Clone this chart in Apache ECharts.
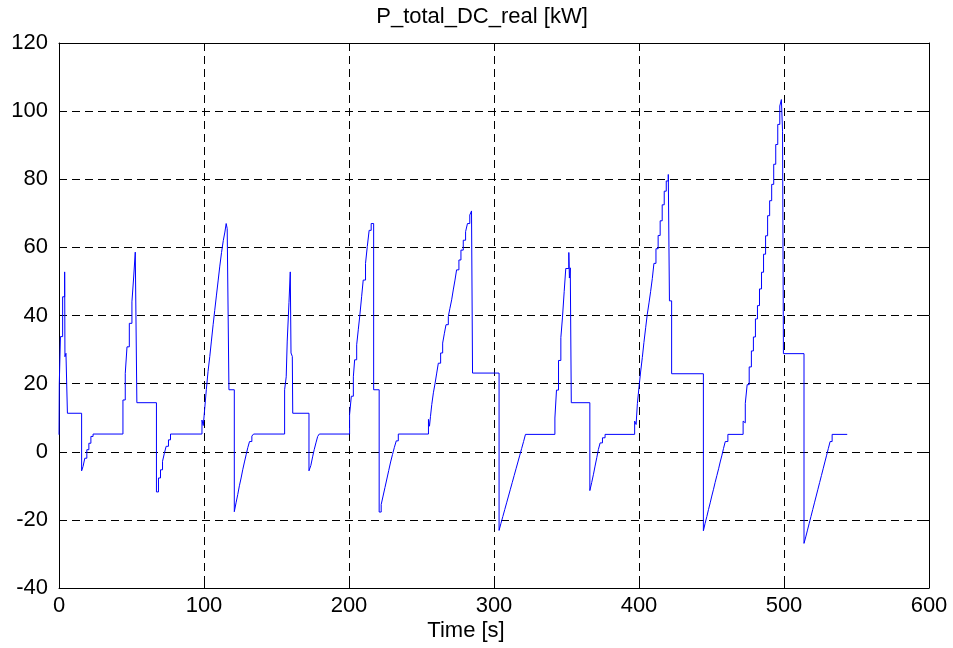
<!DOCTYPE html>
<html>
<head>
<meta charset="utf-8">
<script src="https://cdn.jsdelivr.net/npm/echarts@6/dist/echarts.min.js"></script>
<style>html,body{margin:0;padding:0;background:#fff;}#c{width:953px;height:648px;}</style>
</head>
<body>
<div id="c"></div>
<script>
// Time [s] and P_total_DC_real [kW] (held values, step plot)
var timeS = [
  0, 0.2, 1.0, 2.5, 3.9, 4.1, 4.8, 5.8, 15.6,
  16.6, 17.8, 19.2, 20.6, 22.0, 23.5,
  44.1, 45.7, 46.9, 48.5, 50.3, 51.5, 52.6, 53.7, 67.2,
  68.6, 70.0, 71.4, 72.7, 73.9, 75.5, 76.9,
  98.6, 99.5, 100.5, 101.6, 102.8, 104.0, 105.1, 106.3, 107.4, 108.6, 109.8, 110.9, 112.1, 113.3, 114.4, 115.3, 116.0, 117.2, 120.9,
  122.1, 123.3, 124.4, 125.6, 126.7, 127.9, 129.1, 130.2, 131.4, 133.0, 134.2,
  155.6, 156.7, 157.4, 158.6, 159.5, 160.0, 160.9, 161.2, 172.4,
  173.7, 174.9, 176.0, 177.2, 178.4, 179.5,
  200.4, 201.6, 203.0, 203.9, 205.3, 206.4, 207.5, 208.7, 209.8, 211.4, 212.6, 213.9, 215.3, 217.0, 220.8,
  222.2, 223.5, 224.8, 226.1, 227.4, 228.7, 230.0, 231.3, 232.6, 234.0,
  254.8, 255.5, 256.2, 257.1, 258.2, 259.4, 260.5, 261.6, 263.2, 264.6, 265.8, 266.9, 268.5, 269.6, 270.8, 271.9, 273.1, 274.2, 275.8, 277.2, 278.8, 280.4, 281.7, 283.3, 284.5, 285.2, 303.5,
  304.8, 306.1, 307.4, 308.7, 310.0, 311.3, 312.6, 313.9, 315.2, 316.5, 317.8, 319.1, 320.4, 321.7,
  342.0, 343.1, 344.5, 346.1, 347.2, 348.4, 349.5, 351.6, 352.0, 352.6, 353.3, 366.1,
  367.4, 368.6, 369.7, 370.9, 372.0, 373.2, 374.8, 376.6,
  397.0, 398.0, 398.9, 400.0, 401.1, 402.3, 403.4, 404.6, 405.7, 406.9, 408.0, 409.2, 410.3, 411.7, 413.2, 414.6, 416.0, 417.4, 418.8, 420.2, 421.0, 422.5, 444.4,
  445.6, 446.8, 447.9, 449.1, 450.2, 451.4, 452.5, 453.7, 454.9, 456.0, 457.2, 458.3, 459.5, 461.3,
  471.8, 472.5, 473.3, 474.6, 476.0, 477.5, 478.9, 480.3, 481.7, 483.1, 484.5, 485.9, 487.3, 488.7, 490.1, 491.5, 492.9, 494.3, 495.7, 497.1, 498.2, 499.0, 499.6, 513.8,
  515.0, 516.2, 517.4, 518.6, 519.8, 521.0, 522.2, 523.4, 524.6, 525.8, 527.0, 528.2, 529.4, 530.6, 531.8, 533.2, 543.6
];
var powerKW = [
  5, 20, 33.8, 45.5, 52.8, 27.9, 28.9, 11.3, -5.6,
  -4.3, -1.9, 0.6, 2.5, 4.5, 5.2,
  15.2, 23, 30.8, 37.7, 44, 51.3, 58.6, 14.4, -11.8,
  -7.7, -5.3, -2.8, -0.4, 1.6, 3.5, 5.2,
  9.3, 7.7, 12.7, 18.2, 23.6, 28, 32.5, 37.3, 41.5, 46, 50.4, 54.5, 58.5, 62, 64.5, 67, 65.5, 18.2, -17.6,
  -15, -12.5, -10, -7.7, -5.3, -3, -0.8, 1.2, 3, 4.6, 5.2,
  18.2, 22, 32.5, 43.8, 52.8, 29, 28, 11.3, -5.6,
  -4, -1.5, 0.6, 2.6, 4.5, 5.2,
  10.9, 16.3, 22, 27, 31.4, 35.8, 40.2, 45.5, 50.4, 55.3, 60.2, 65, 67, 18.2, -17.7,
  -15.5, -13, -10.5, -8, -5.5, -3, -0.8, 1.3, 3.2, 5.2,
  9.5, 7.5, 10.4, 13.9, 17.3, 20.2, 23.1, 26, 29, 31.9, 34.8, 37.3, 39.7, 42.1, 44.6, 47.5, 50.4, 53.4, 56.3, 59.2, 62.1, 64.6, 67, 69.5, 70.7, 23.1, -23.1,
  -21, -19, -17, -15, -13, -11, -9, -7, -5, -3, -1, 1, 3, 5.1,
  9.9, 18.1, 26.8, 33.5, 39.3, 47, 53.8, 58.5, 51, 54, 14.4, -11.4,
  -9, -6.6, -4.2, -1.7, 0.7, 2.6, 4.1, 5.1,
  9, 8, 14.2, 19, 23.4, 27.7, 32.1, 36.4, 40.3, 43.7, 47, 50.9, 55.3, 59.6, 63.5, 67.8, 72.5, 76.5, 79.5, 81.4, 44.3, 22.9, -23.2,
  -21, -19, -17, -15, -13, -11, -9, -7, -5, -3, -1, 1, 3, 5.1,
  9, 8.5, 14.2, 19.7, 24.9, 29.6, 33.7, 39, 42.9, 47.8, 52.7, 58, 63.4, 69.3, 73.7, 78.5, 84.4, 90.2, 96.1, 101.5, 103.4, 94.1, 28.8, -26.9,
  -25, -23, -21, -19, -17, -15, -13, -11, -9, -7, -5, -3, -1, 1, 3, 5.1, 5.1
];
var xTicks = [0, 100, 200, 300, 400, 500, 600];
var yTicks = [-40, -20, 0, 20, 40, 60, 80, 100, 120];
var titleText = 'P_total_DC_real [kW]';
var xLabel = 'Time [s]';

var FONT = 'Liberation Sans, Arial, sans-serif';
var chart = echarts.init(document.getElementById('c'), null, {renderer: 'canvas'});
var pts = timeS.map(function (t, i) { return [t, powerKW[i]]; });
var gridLine = {show: true, lineStyle: {color: '#000', width: 1, type: [8, 5]}};
var axLine = {show: true, onZero: false, lineStyle: {color: '#000', width: 1}};
var tick = {show: true, inside: true, length: 6, lineStyle: {color: '#000', width: 1}};
var xMin = xTicks[0], xMax = xTicks[xTicks.length - 1], xInt = xTicks[1] - xTicks[0];
var yMin = yTicks[0], yMax = yTicks[yTicks.length - 1], yInt = yTicks[1] - yTicks[0];

chart.setOption({
  animation: false,
  backgroundColor: '#fff',
  grid: {left: 59, right: 24, top: 43, bottom: 60},
  xAxis: [
    {type: 'value', min: xMin, max: xMax, interval: xInt, position: 'bottom',
     axisLine: axLine, axisTick: tick, splitLine: gridLine,
     axisLabel: {color: '#000', fontFamily: FONT, fontSize: 22, margin: 7}},
    {type: 'value', min: xMin, max: xMax, interval: xInt, position: 'top',
     axisLine: axLine, axisTick: tick, splitLine: {show: false}, axisLabel: {show: false}}
  ],
  yAxis: [
    {type: 'value', min: yMin, max: yMax, interval: yInt, position: 'left',
     axisLine: axLine, axisTick: tick, splitLine: gridLine,
     axisLabel: {color: '#000', fontFamily: FONT, fontSize: 22, margin: 11}},
    {type: 'value', min: yMin, max: yMax, interval: yInt, position: 'right',
     axisLine: axLine, axisTick: tick, splitLine: {show: false}, axisLabel: {show: false}}
  ],
  graphic: [
    {type: 'text', x: 482, y: 6,
     style: {text: titleText, fill: '#000', font: '22px ' + FONT, textAlign: 'center', textVerticalAlign: 'top'}},
    {type: 'text', x: 466, y: 620,
     style: {text: xLabel, fill: '#000', font: '22px ' + FONT, textAlign: 'center', textVerticalAlign: 'top'}}
  ],
  series: [{
    type: 'line', data: pts, step: 'end', showSymbol: false, symbol: 'none',
    xAxisIndex: 0, yAxisIndex: 0,
    lineStyle: {color: '#0000ff', width: 1}
  }]
});
</script>
</body>
</html>
